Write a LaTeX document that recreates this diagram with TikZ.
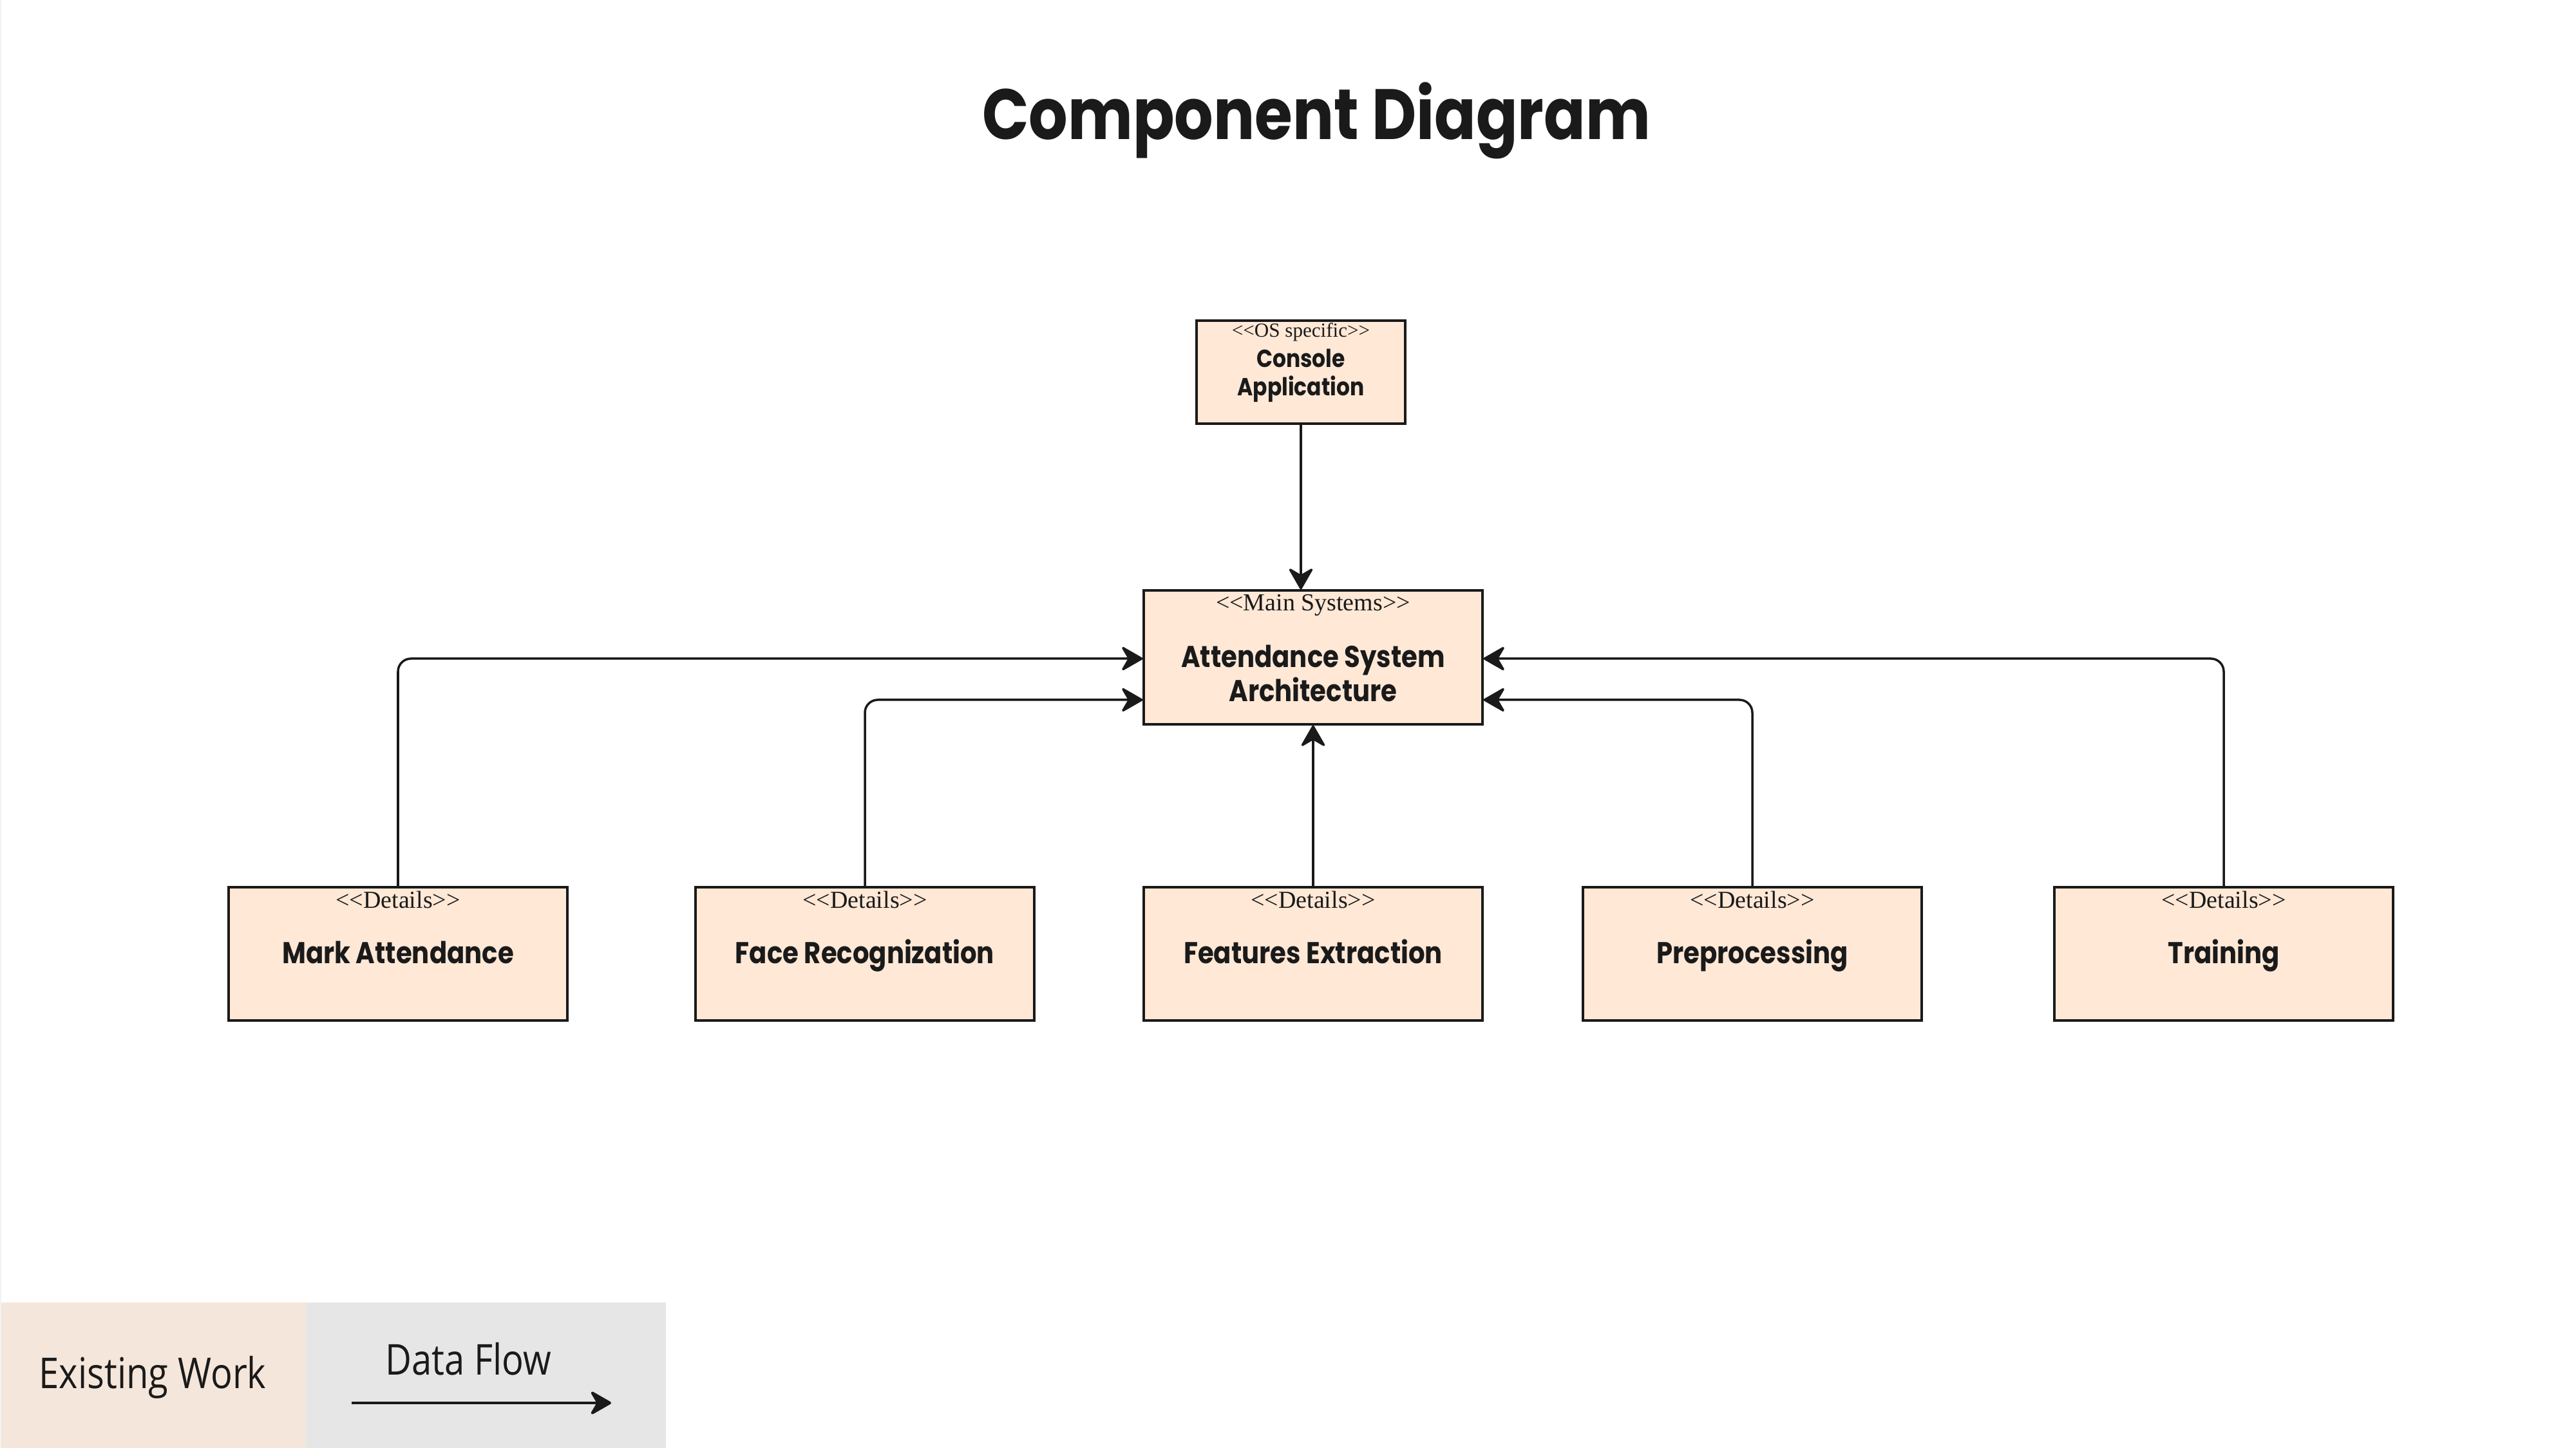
\documentclass[tikz,border=0pt]{standalone}
\usepackage{fontspec}
\newfontfamily\headfont[FakeStretch=0.86]{Poppins}
\newfontfamily\stereofont{Liberation Serif}
\newfontfamily\legendfont[FakeStretch=0.85]{Open Sans}
\usetikzlibrary{arrows.meta}

\definecolor{compfill}{HTML}{FFE8D6}
\definecolor{existfill}{HTML}{F5E6DC}
\definecolor{flowfill}{HTML}{E6E6E6}
\definecolor{inkc}{HTML}{1A1A1A}

\tikzstyle{comp} = [rectangle, minimum width=5.26cm, minimum height=2.07cm, text centered, draw=inkc, fill=compfill, line width=0.9pt, text=inkc, inner sep=0pt, font=\headfont\bfseries\fontsize{13.3}{15}\selectfont]
\tikzstyle{details} = [comp, text height=11.8pt, text depth=3.4pt]
\tikzstyle{stereo} = [font=\stereofont\fontsize{10.8}{12}\selectfont, text=inkc, inner sep=0pt, anchor=north, yshift=-2pt]
\tikzstyle{flow} = [->, >={Stealth[length=10.5pt, width=12pt, inset=3.5pt, round]}, line width=1pt, draw=inkc, rounded corners=0.2cm]

\begin{document}
\begin{tikzpicture}
	\useasboundingbox (0,0) rectangle (40,22.49);
	\fill[white] (0,0) rectangle (40,22.49);

	\node (title) [anchor=base, text=inkc, font=\headfont\bfseries\fontsize{31.5}{36}\selectfont] at (20.44,20.32) {Component Diagram};

	% components
	\node (console) [comp, minimum width=3.24cm, minimum height=1.60cm, align=center, font=\headfont\bfseries\fontsize{10.9}{12.5}\selectfont, label={[stereo, font=\stereofont\fontsize{8.85}{10}\selectfont, yshift=0.6pt]north:{<<OS specific>>}}] at (20.20,16.71) {\rule{0pt}{11pt}Console\\Application};
	\node (main) [comp, minimum height=2.08cm, label={[stereo]north:{<<Main Systems>>}}, label={[align=center, text=inkc, yshift=-0.25cm, font=\headfont\bfseries\fontsize{13.3}{15}\selectfont]center:{Attendance System\\Architecture}}] at (20.39,12.28) {};

	\node (mark)  [details, label={[stereo]north:{<<Details>>}}] at (6.18,7.675)  {Mark Attendance};
	\node (face)  [details, label={[stereo]north:{<<Details>>}}] at (13.43,7.675) {Face Recognization};
	\node (feat)  [details, label={[stereo]north:{<<Details>>}}] at (20.39,7.675) {Features Extraction};
	\node (prep)  [details, label={[stereo]north:{<<Details>>}}] at (27.21,7.675) {Preprocessing};
	\node (train) [details, label={[stereo]north:{<<Details>>}}] at (34.53,7.675) {Training};

	\draw[flow] (console.south) -- (console.south |- main.north);
	\draw[flow] (mark.north)  |- ([yshift=-0.02cm]main.west);
	\draw[flow] (face.north)  |- ([yshift=-0.66cm]main.west);
	\draw[flow] (feat.north)  -- (main.south);
	\draw[flow] (prep.north)  |- ([yshift=-0.66cm]main.east);
	\draw[flow] (train.north) |- ([yshift=-0.02cm]main.east);

	% legend
	\fill[existfill] (0,0) rectangle (4.75,2.26);
	\fill[flowfill] (4.75,0) rectangle (10.34,2.26);
	\node (existing) [text=inkc, font=\legendfont\fontsize{18.8}{20}\selectfont] at (2.37,1.10) {Existing Work};
	\node (dataflow) [text=inkc, font=\legendfont\fontsize{18.8}{20}\selectfont] at (7.27,1.38) {Data Flow};
	\coordinate (flowstart) at (5.46,0.70);
	\coordinate (flowend) at (9.49,0.70);
	\draw[flow, line width=1.2pt] (flowstart) -- (flowend);

	\fill[gray!10] (0,0) rectangle (0.025,22.49);
\end{tikzpicture}
\end{document}
